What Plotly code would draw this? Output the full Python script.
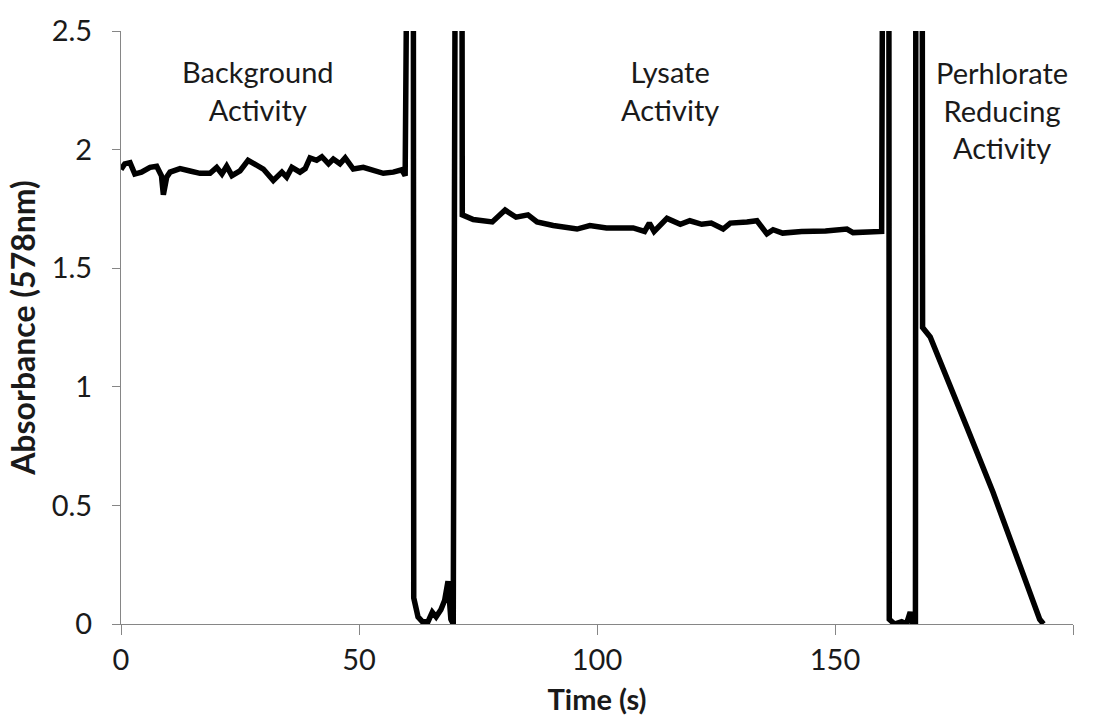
import plotly.graph_objects as go

# Background segment
time_bg = [0.0, 0.8, 1.9, 2.9, 4.3, 6.1, 7.5, 8.5, 8.9, 9.6, 10.3, 12.4, 14.5, 16.6, 18.7,
           20.1, 21.2, 22.2, 23.3, 25.0, 26.7, 28.5, 29.9, 32.0, 33.8, 34.8, 35.9, 37.6,
           38.7, 39.7, 41.1, 42.2, 43.6, 44.6, 46.0, 47.1, 48.8, 50.9, 53.0, 55.1, 57.2,
           59.0, 59.7]
abs_bg = [1.916, 1.94, 1.945, 1.897, 1.905, 1.925, 1.93, 1.89, 1.81, 1.884, 1.905, 1.92,
          1.91, 1.90, 1.90, 1.925, 1.897, 1.93, 1.89, 1.91, 1.955, 1.935, 1.918, 1.87,
          1.905, 1.884, 1.925, 1.905, 1.92, 1.965, 1.955, 1.97, 1.94, 1.96, 1.94, 1.965,
          1.918, 1.925, 1.91, 1.90, 1.905, 1.915, 1.89]

# First sample injection spike
time_sp1 = [60.3, 61.4, 61.5, 62.4, 63.3, 64.5, 65.4, 66.2, 67.2, 68.0, 68.7, 69.3, 69.8,
            70.3, 71.6]
abs_sp1 = [3.5, 3.5, 0.11, 0.03, 0.01, 0.01, 0.05, 0.03, 0.06, 0.10, 0.18, 0.02, 0.0,
           3.5, 3.5]

# Lysate segment
time_ly = [71.7, 74.0, 78.0, 80.7, 83.0, 85.5, 87.4, 90.8, 95.8, 98.5, 102.0, 107.6, 110.0,
           111.0, 112.0, 114.7, 117.5, 119.5, 122.0, 124.0, 126.5, 128.0, 131.5, 133.6,
           135.7, 137.0, 139.0, 143.0, 148.0, 152.5, 153.8, 157.0, 159.8]
abs_ly = [1.725, 1.705, 1.695, 1.745, 1.715, 1.725, 1.695, 1.68, 1.665, 1.68, 1.67, 1.67,
          1.655, 1.69, 1.655, 1.71, 1.685, 1.70, 1.685, 1.69, 1.665, 1.69, 1.695, 1.70,
          1.645, 1.662, 1.648, 1.655, 1.657, 1.665, 1.65, 1.652, 1.655]

# Second injection spike
time_sp2 = [160.1, 161.3, 161.4, 162.5, 164.0, 165.0, 165.8, 166.3, 166.9, 167.0, 168.3]
abs_sp2 = [3.5, 3.5, 0.02, 0.0, 0.01, 0.0, 0.05, 0.0, 0.0, 3.5, 3.5]

# Perchlorate reducing segment
time_pr = [168.4, 170.0, 172.7, 177.7, 183.2, 187.4, 191.6, 193.0, 193.8]
abs_pr = [1.25, 1.21, 1.08, 0.83, 0.555, 0.33, 0.10, 0.02, 0.0]

time_all = time_bg + time_sp1 + time_ly + time_sp2 + time_pr
abs_all = abs_bg + abs_sp1 + abs_ly + abs_sp2 + abs_pr

labels = ["Background<br>Activity", "Lysate<br>Activity", "Perhlorate<br>Reducing<br>Activity"]
label_x = [28.8, 115.3, 185.0]
label_y = [2.25, 2.25, 2.165]

x_ticks = [0, 50, 100, 150, 200]
y_ticks = [0, 0.5, 1, 1.5, 2, 2.5]

FONT = "Lato, Open Sans, sans-serif"
TXT = "#1a1a1a"

fig = go.Figure()
fig.add_trace(go.Scatter(x=time_all, y=abs_all, mode="lines",
                         line=dict(color="black", width=5.5), showlegend=False))

for t, lx, ly in zip(labels, label_x, label_y):
    fig.add_annotation(x=lx, y=ly, text=t, showarrow=False,
                       font=dict(family=FONT, size=29, color=TXT),
                       xanchor="center", yanchor="middle", align="center")

tick_font = dict(family=FONT, size=29, color=TXT)
fig.update_layout(
    width=1098, height=727,
    margin=dict(l=121, r=25, t=28, b=103),
    paper_bgcolor="white", plot_bgcolor="white",
    xaxis=dict(range=[0, 200], tickvals=x_ticks, showgrid=False, zeroline=False,
               showline=True, linecolor="#868686", linewidth=1,
               ticks="outside", ticklen=10, tickcolor="#868686",
               tickfont=tick_font,
               title=dict(text="<b>Time (s)</b>", font=dict(family=FONT, size=29, color=TXT),
                          standoff=14)),
    yaxis=dict(range=[0, 2.5], tickvals=y_ticks, showgrid=False, zeroline=False,
               showline=True, linecolor="#868686", linewidth=1,
               ticks="outside", ticklen=8, tickcolor="#868686",
               tickfont=tick_font, ticklabelstandoff=14,
               title=dict(text="<b>Absorbance (578nm)</b>",
                          font=dict(family=FONT, size=32, color=TXT), standoff=6)),
)

fig.write_html("out.html")
